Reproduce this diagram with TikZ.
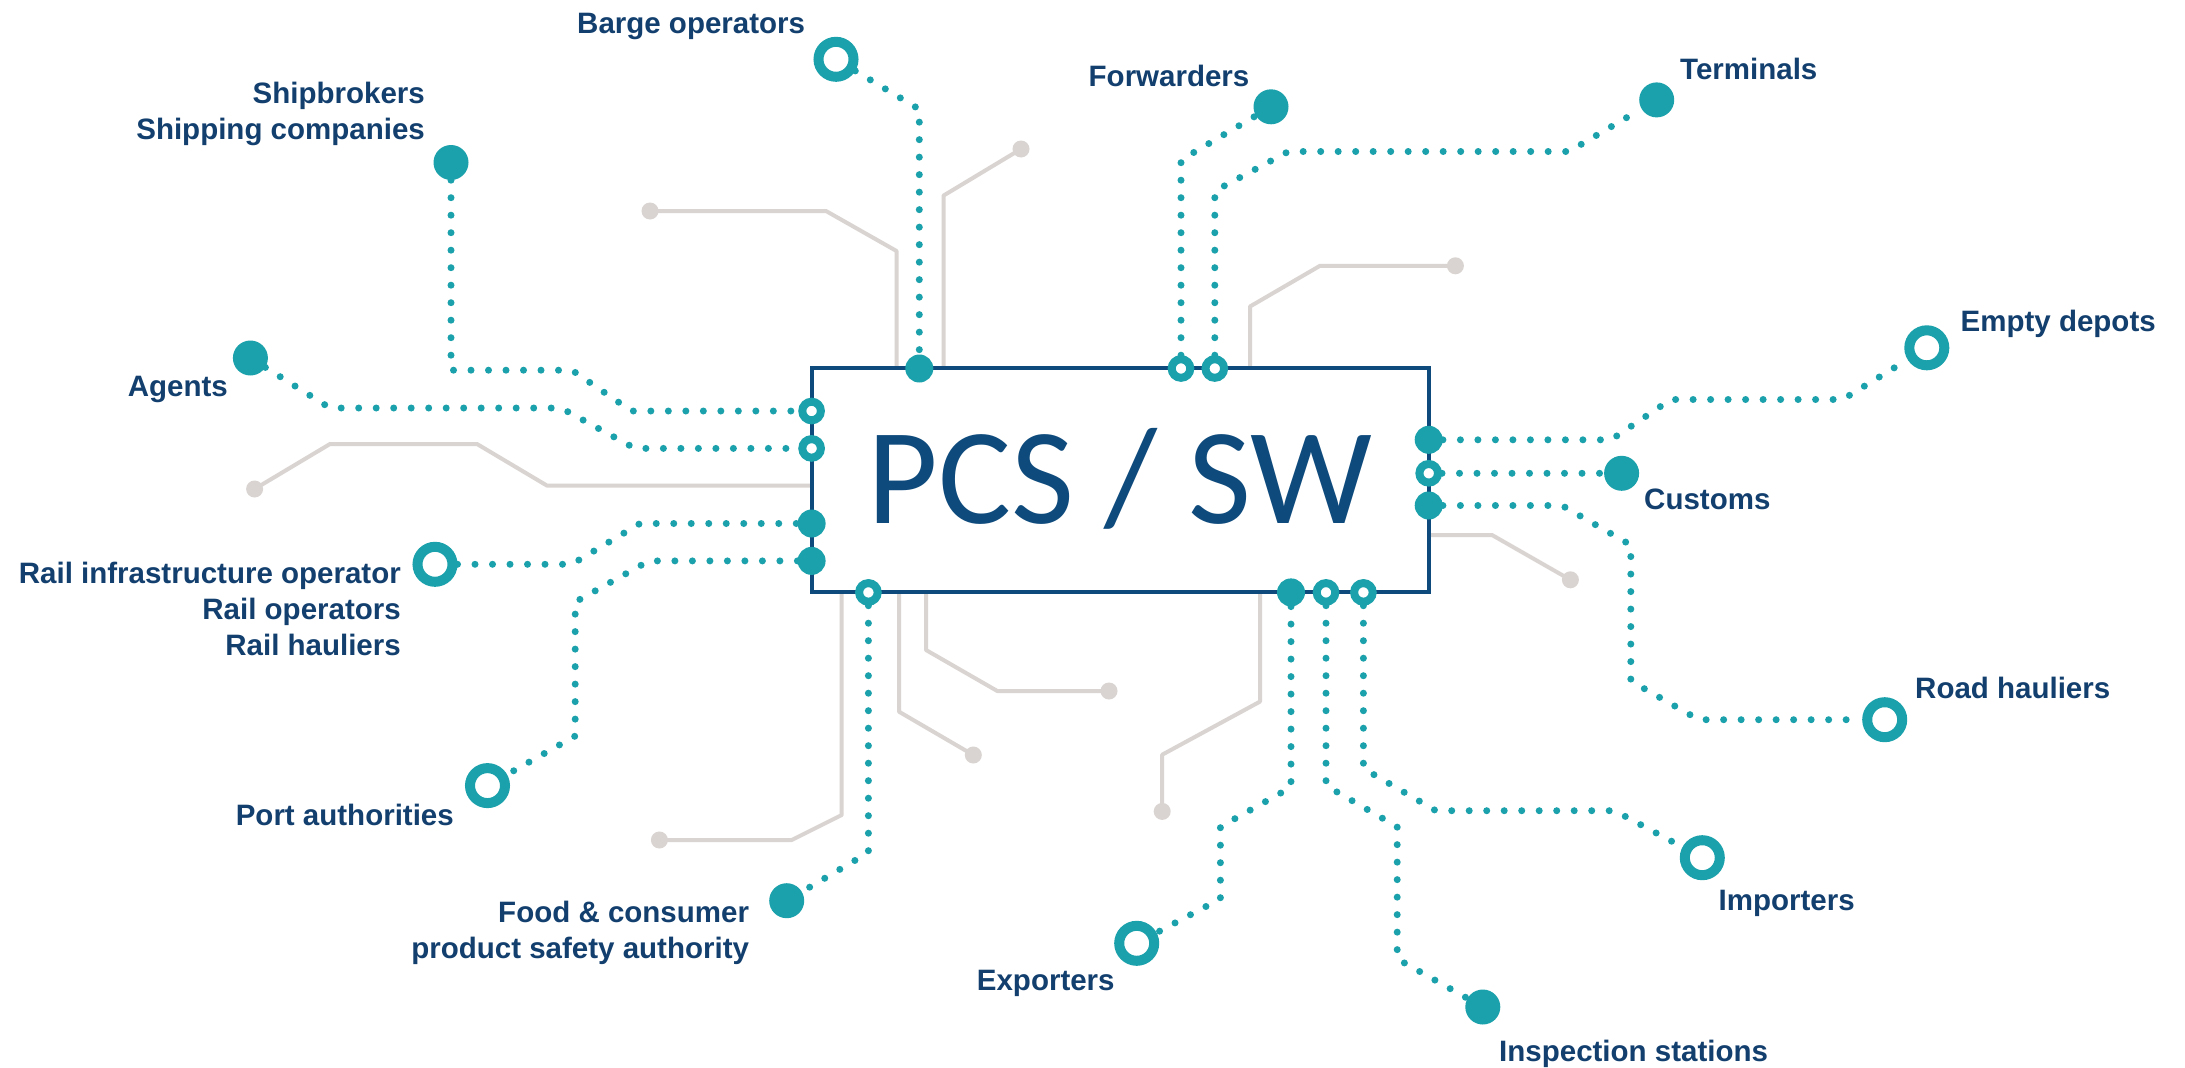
\documentclass[tikz,border=0pt]{standalone}
\usepackage{fontspec}
\setmainfont{Liberation Sans}
\newfontfamily\pcsfont{Carlito}
\definecolor{tealc}{HTML}{1BA1AB}
\definecolor{navybox}{HTML}{0E4A7C}
\definecolor{navytext}{HTML}{123F6E}
\definecolor{grayc}{HTML}{D9D4D1}
\begin{document}
\begin{tikzpicture}[x=1pt,y=-1pt,
  lbl/.style={text=navytext, font=\bfseries\fontsize{29.5}{36}\selectfont, inner sep=0pt},
  conn/.style={draw=tealc, line width=7pt, line cap=round, dash pattern=on 0pt off 17.5pt},
  grayline/.style={draw=grayc, line width=4pt, line join=round},
  graydot/.style={circle, fill=grayc, minimum size=17pt, inner sep=0pt},
  bigfill/.style={circle, fill=tealc, minimum size=35pt, inner sep=0pt},
  bigring/.style={circle, draw=tealc, line width=10pt, fill=white, minimum size=35pt, inner sep=0pt},
  smallfill/.style={circle, fill=tealc, minimum size=28pt, inner sep=0pt},
  smallring/.style={circle, draw=tealc, line width=8pt, fill=white, minimum size=18.6pt, inner sep=0pt},
  boxstyle/.style={draw=navybox, line width=4pt, fill=white, minimum width=617pt, minimum height=224pt, inner sep=0pt}
]
\useasboundingbox[fill=white] (0,0) rectangle (2185,1068);

% gray decorative end dots
\node[graydot] (gd1) at (650,211) {};
\node[graydot] (gd2) at (1021,149) {};
\node[graydot] (gd3) at (1455.4,265.8) {};
\node[graydot] (gd4) at (254.6,489) {};
\node[graydot] (gd5) at (1570.4,579.8) {};
\node[graydot] (gd6) at (659.4,840) {};
\node[graydot] (gd7) at (973.3,755) {};
\node[graydot] (gd8) at (1109,691) {};
\node[graydot] (gd9) at (1162.2,811.4) {};

% gray line roots on the box edge
\coordinate (gr1) at (896.5,368.5);
\coordinate (gr2) at (943.5,368.5);
\coordinate (gr3) at (1250,368.5);
\coordinate (gr4) at (811.6,485.6);
\coordinate (gr5) at (1428.7,535);
\coordinate (gr6) at (841.7,592.4);
\coordinate (gr7) at (899,592.4);
\coordinate (gr8) at (926,592.4);
\coordinate (gr9) at (1260,592.4);

\draw[grayline] (gr1) -- (896.5,251) -- (826,211) -- (gd1.center);
\draw[grayline] (gr2) -- (943.5,195.6) -- (gd2.center);
\draw[grayline] (gr3) -- (1250,306.5) -- (1320,265.8) -- (gd3.center);
\draw[grayline] (gr4) -- (547,485.6) -- (477,444) -- (330,444) -- (gd4.center);
\draw[grayline] (gr5) -- (1492,535) -- (gd5.center);
\draw[grayline] (gr6) -- (841.7,815) -- (791.7,840) -- (gd6.center);
\draw[grayline] (gr7) -- (899,711.7) -- (gd7.center);
\draw[grayline] (gr8) -- (926,650) -- (997.3,691) -- (gd8.center);
\draw[grayline] (gr9) -- (1260,701.6) -- (1162.2,754.7) -- (gd9.center);

% central box
\node[boxstyle] (box) at (1120.15,480.45) {};
\node[anchor=base, text=navybox, font=\pcsfont\fontsize{137}{137}\selectfont, inner sep=0pt] (pcs) at (1120,523.5) {PCS / SW};

% ports on the box
\node[smallfill] (pBarge) at (919.3,368.5) {};
\node[smallring] (pFwd) at (1181,368.5) {};
\node[smallring] (pTerm) at (1214.8,368.5) {};
\node[smallring] (pShip) at (811.6,411) {};
\node[smallring] (pAgents) at (811.6,448.4) {};
\node[smallfill] (pRail) at (811.6,523.5) {};
\node[smallfill] (pPort) at (811.6,560.9) {};
\node[smallring] (pFood) at (868.4,592.4) {};
\node[smallfill] (pExp) at (1291,592.4) {};
\node[smallring] (pInsp) at (1326,592.4) {};
\node[smallring] (pImp) at (1363.4,592.4) {};
\node[smallfill] (pEmpty) at (1428.7,439.8) {};
\node[smallring] (pCust) at (1428.7,473.3) {};
\node[smallfill] (pRoad) at (1428.7,505.5) {};

% end points
\node[bigring] (barge) at (836,59.3) {};
\node[bigfill] (ship) at (451,162.5) {};
\node[bigfill] (agents) at (250.4,358) {};
\node[bigring] (rail) at (435,564.3) {};
\node[bigring] (port) at (487.5,785.6) {};
\node[bigfill] (food) at (786.7,900.7) {};
\node[bigring] (exp) at (1136.7,943.3) {};
\node[bigfill] (insp) at (1482.8,1007) {};
\node[bigring] (imp) at (1702.3,857.7) {};
\node[bigring] (road) at (1884.7,719.7) {};
\node[bigfill] (cust) at (1621.6,473.3) {};
\node[bigring] (empty) at (1926.8,347.8) {};
\node[bigfill] (term) at (1656.7,99.9) {};
\node[bigfill] (fwd) at (1271,106.8) {};

% connectors
\draw[conn] (barge) -- (919.3,109.3) -- (pBarge);
\draw[conn] (ship) -- (451,370.2) -- (572,370.2) -- (631.4,411) -- (pShip);
\draw[conn] (agents) -- (330,408) -- (561,408) -- (635,448.4) -- (pAgents);
\draw[conn] (rail) -- (571.7,564.3) -- (640,523.5) -- (pRail);
\draw[conn] (pPort) -- (648.9,560.9) -- (575.2,602) -- (575.2,736) -- (port);
\draw[conn] (pFood) -- (868.4,852.5) -- (food);
\draw[conn] (pExp) -- (1291,787.3) -- (1220.4,826.8) -- (1220.4,898.8) -- (exp);
\draw[conn] (pInsp) -- (1326,785.6) -- (1397.2,826.8) -- (1397.2,958.9) -- (insp);
\draw[conn] (pImp) -- (1363.4,768.5) -- (1435.8,810.7) -- (1614.6,810.7) -- (imp);
\draw[conn] (pRoad) -- (1562,505.5) -- (1630.8,545) -- (1630.8,681) -- (1698.8,719.7) -- (road);
\draw[conn] (pCust) -- (cust);
\draw[conn] (pEmpty) -- (1611,439.8) -- (1670.8,399.5) -- (1842.6,399.5) -- (empty);
\draw[conn] (pTerm) -- (1214.8,191) -- (1288.4,151.5) -- (1569,151.5) -- (term);
\draw[conn] (pFwd) -- (1181,160) -- (fwd);

% labels
\node[lbl, anchor=base west] (tBarge) at (577,33) {Barge operators};
\node[lbl, anchor=base east, align=right] (tShip) at (425,139.5) {Shipbrokers\\Shipping companies};
\node[lbl, anchor=base east] (tAgents) at (228,396) {Agents};
\node[lbl, anchor=base east, align=right] (tRail) at (401,655.2) {Rail infrastructure operator\\Rail operators\\Rail hauliers};
\node[lbl, anchor=base east] (tPort) at (454,825) {Port authorities};
\node[lbl, anchor=base east, align=right] (tFood) at (749.2,958.9) {Food \& consumer\\product safety authority};
\node[lbl, anchor=base west] (tExp) at (976.7,990) {Exporters};
\node[lbl, anchor=base west] (tInsp) at (1499,1061.8) {Inspection stations};
\node[lbl, anchor=base west] (tImp) at (1718.5,910.2) {Importers};
\node[lbl, anchor=base west] (tRoad) at (1915,698.8) {Road hauliers};
\node[lbl, anchor=base west] (tCust) at (1644,509.6) {Customs};
\node[lbl, anchor=base west] (tEmpty) at (1960.5,331) {Empty depots};
\node[lbl, anchor=base west] (tTerm) at (1680,79) {Terminals};
\node[lbl, anchor=base west] (tFwd) at (1088.5,86) {Forwarders};
\end{tikzpicture}
\end{document}
